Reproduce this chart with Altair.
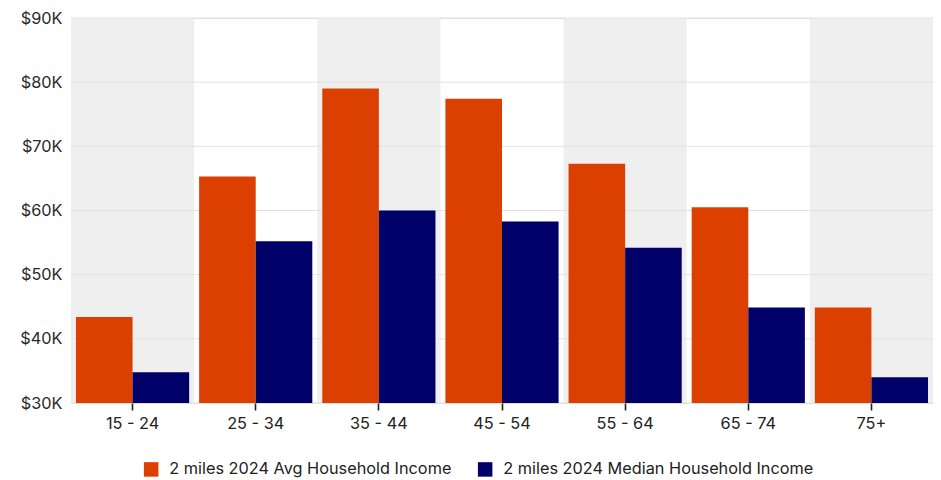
import altair as alt
import pandas as pd

ages = ["15 - 24", "25 - 34", "35 - 44", "45 - 54", "55 - 64", "65 - 74", "75+"]
avg_income = [43400, 65300, 79000, 77400, 67300, 60500, 44900]
median_income = [34800, 55200, 60000, 58300, 54200, 44900, 34000]
series_names = ["2 miles 2024 Avg Household Income", "2 miles 2024 Median Household Income"]
series_colors = ["#DC4000", "#000068"]
shaded = [True, False, True, False, True, False, True]
grid_values = [30000, 40000, 50000, 60000, 70000, 80000, 90000]

rows = []
for a, v1, v2 in zip(ages, avg_income, median_income):
    rows.append({"age": a, "series": series_names[0], "value": v1})
    rows.append({"age": a, "series": series_names[1], "value": v2})
bars_df = pd.DataFrame(rows)
bg_df = pd.DataFrame({"age": [a for a, s in zip(ages, shaded) if s]})
grid_df = pd.DataFrame({"value": grid_values})

font = "Inter"
fsize = 16.3
xscale = alt.Scale(domain=ages, paddingInner=0, paddingOuter=0)
yscale = alt.Scale(domain=[30000, 90000], nice=False, zero=False)

xaxis = alt.Axis(labelAngle=0, domain=False, ticks=True, tickColor="#222222",
                 tickSize=7, tickWidth=1.6, labelPadding=5, labelFontSize=fsize,
                 labelColor="#222222", labelFont=font, grid=False)
yaxis = alt.Axis(values=grid_values, grid=False, domain=False, ticks=False,
                 labelPadding=9, labelFontSize=fsize, labelColor="#2a2a2a",
                 labelFont=font, labelExpr="'$' + datum.value / 1000 + 'K'")

bg = alt.Chart(bg_df).mark_rect(color="#efefef").encode(
    x=alt.X("age:N", scale=xscale, sort=ages, title=None, axis=xaxis)
)

grid = alt.Chart(grid_df).mark_rule(color="#e2e2e2", strokeWidth=1).encode(
    y=alt.Y("value:Q", scale=yscale, title=None, axis=yaxis)
)

bars = alt.Chart(bars_df).mark_bar().encode(
    x=alt.X("age:N", scale=xscale, sort=ages, title=None, axis=xaxis),
    xOffset=alt.XOffset("series:N", sort=series_names,
                        scale=alt.Scale(paddingOuter=0.088, paddingInner=0)),
    y=alt.Y("value:Q", scale=yscale, title=None, axis=yaxis),
    y2=alt.datum(30000),
    color=alt.Color(
        "series:N", sort=series_names,
        scale=alt.Scale(domain=series_names, range=series_colors),
        legend=alt.Legend(orient="none", legendX=72, legendY=443, title=None,
                          symbolType="square", symbolSize=210, labelFontSize=fsize,
                          labelColor="#222222", labelFont=font, labelLimit=0,
                          labelOffset=10, columnPadding=25, symbolStrokeWidth=0,
                          direction="horizontal"),
    ),
)

chart = alt.layer(bg, grid, bars).properties(
    width=862, height=385,
    autosize=alt.AutoSizeParams(type="none"),
    padding={"left": 63, "top": 10, "right": 0, "bottom": 75},
).configure_view(stroke=None).configure(background="white")

chart.save("out.html", embed_options={"renderer": "svg", "actions": False})
